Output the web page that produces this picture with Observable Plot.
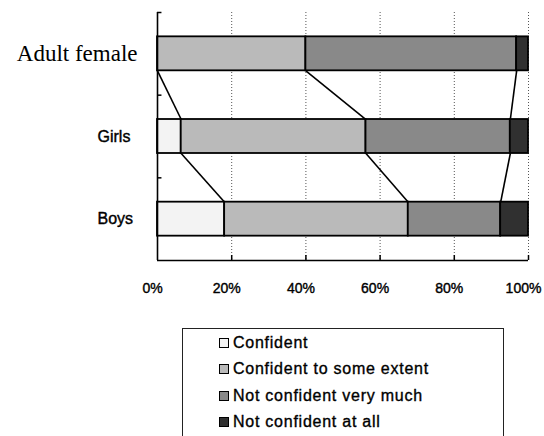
<!DOCTYPE html>
<html><head><meta charset="utf-8">
<script src="https://cdn.jsdelivr.net/npm/d3@7"></script>
<script src="https://cdn.jsdelivr.net/npm/@observablehq/plot@0.6"></script>
<style>
html,body{margin:0;padding:0;background:#fff;width:544px;height:436px;overflow:hidden;}
#wrap{position:relative;width:544px;height:436px;}
#chart svg{display:block;}
#legend{position:absolute;left:182px;top:328px;width:322px;height:130px;border:1px solid #222;box-sizing:border-box;font-family:"Liberation Sans",Arial,sans-serif;font-size:16px;letter-spacing:0.75px;color:#000;-webkit-text-stroke:0.35px #000;}
.row{position:absolute;left:36px;height:20px;display:flex;align-items:center;white-space:nowrap;}
.sw{width:10px;height:10px;border:1px solid #000;box-sizing:border-box;margin-right:4px;}
</style></head>
<body>
<div id="wrap"><div id="chart"></div><div id="legend"></div></div>
<script>
const categories = ["Adult female", "Girls", "Boys"];
const responses = ["Confident", "Confident to some extent", "Not confident very much", "Not confident at all"];
const confident   = [0, 6.4, 18.1];
const someExtent  = [40, 49.8, 49.5];
const notVeryMuch = [56.8, 38.9, 24.9];
const notAtAll    = [3.2, 4.9, 7.5];
const xTicks = [0, 20, 40, 60, 80, 100];
const fills = ["#f3f3f3", "#bababa", "#898989", "#303030"];

const series = [confident, someExtent, notVeryMuch, notAtAll];
const rows = [];
categories.forEach((c, i) => {
  let acc = 0;
  responses.forEach((r, k) => {
    const v = series[k][i];
    rows.push({category: c, i, response: r, x1: acc, x2: acc + v});
    acc += v;
  });
});
const h = 0.2056;
const links = [];
for (let i = 0; i < categories.length - 1; i++) {
  for (let k = 0; k < 3; k++) {
    const a = rows.find(d => d.i === i && d.response === responses[k]).x2;
    const b = rows.find(d => d.i === i + 1 && d.response === responses[k]).x2;
    links.push({x1: a, y1: i + h, x2: b, y2: i + 1 - h});
  }
}
const idx = d => categories.indexOf(d);

const chart = Plot.plot({
  width: 544, height: 320,
  marginLeft: 157, marginRight: 16, marginTop: 12, marginBottom: 60,
  x: {domain: [0, 100], axis: null},
  y: {domain: [-0.5, 2.5], reverse: true, axis: null},
  color: {type: "ordinal", domain: responses, range: fills},
  style: {fontFamily: "'Liberation Sans', Arial, sans-serif", fontSize: "14px", background: "white", color: "black"},
  marks: [
    Plot.ruleX(xTicks.slice(1), {x: d => d, y1: -0.5, y2: 2.5, stroke: "#555", strokeDasharray: "1,2"}),
    Plot.rect(rows, {x1: "x1", x2: "x2", y1: d => d.i - h, y2: d => d.i + h, fill: "response", stroke: "#000", strokeWidth: 1.8}),
    Plot.link(links, {x1: "x1", y1: "y1", x2: "x2", y2: "y2", stroke: "#000", strokeWidth: 1.6}),
    Plot.ruleX([0], {x: d => d, y1: -0.5, y2: 2.5, stroke: "#000", strokeWidth: 1.6}),
    Plot.ruleY([2.5], {y: d => d, x1: 0, x2: 100, stroke: "#000", strokeWidth: 1.6}),
    Plot.ruleY([-0.5, 0.5, 1.5], {y: d => d, x1: 0, x2: 1.2, stroke: "#000", strokeWidth: 1.5}),
    Plot.ruleX(xTicks.slice(1), {x: d => d, y1: 2.5, y2: 2.44, stroke: "#000", strokeWidth: 1.5}),
    Plot.text(xTicks, {x: d => d, frameAnchor: "bottom", dy: 32, dx: -5, text: d => d + "%", fontSize: 14, fill: "#000", stroke: "#000", strokeWidth: 0.4}),
    Plot.text(categories.slice(0, 1), {y: idx, frameAnchor: "left", dx: -20, textAnchor: "end", text: d => d, fontSize: 23, fontFamily: "'Liberation Serif', 'Times New Roman', serif", fill: "#000"}),
    Plot.text(categories.slice(1), {y: idx, frameAnchor: "left", dx: -60, textAnchor: "start", text: d => d, fontSize: 16, fill: "#000", stroke: "#000", strokeWidth: 0.4})
  ]
});
document.getElementById("chart").appendChild(chart);

const legend = document.getElementById("legend");
const rowTops = [3.5, 30, 56.5, 83];
responses.forEach((r, k) => {
  const row = document.createElement("div");
  row.className = "row";
  row.style.top = rowTops[k] + "px";
  const sw = document.createElement("span");
  sw.className = "sw";
  sw.style.background = fills[k];
  const t = document.createElement("span");
  t.textContent = r;
  row.appendChild(sw);
  row.appendChild(t);
  legend.appendChild(row);
});
</script>
</body></html>
